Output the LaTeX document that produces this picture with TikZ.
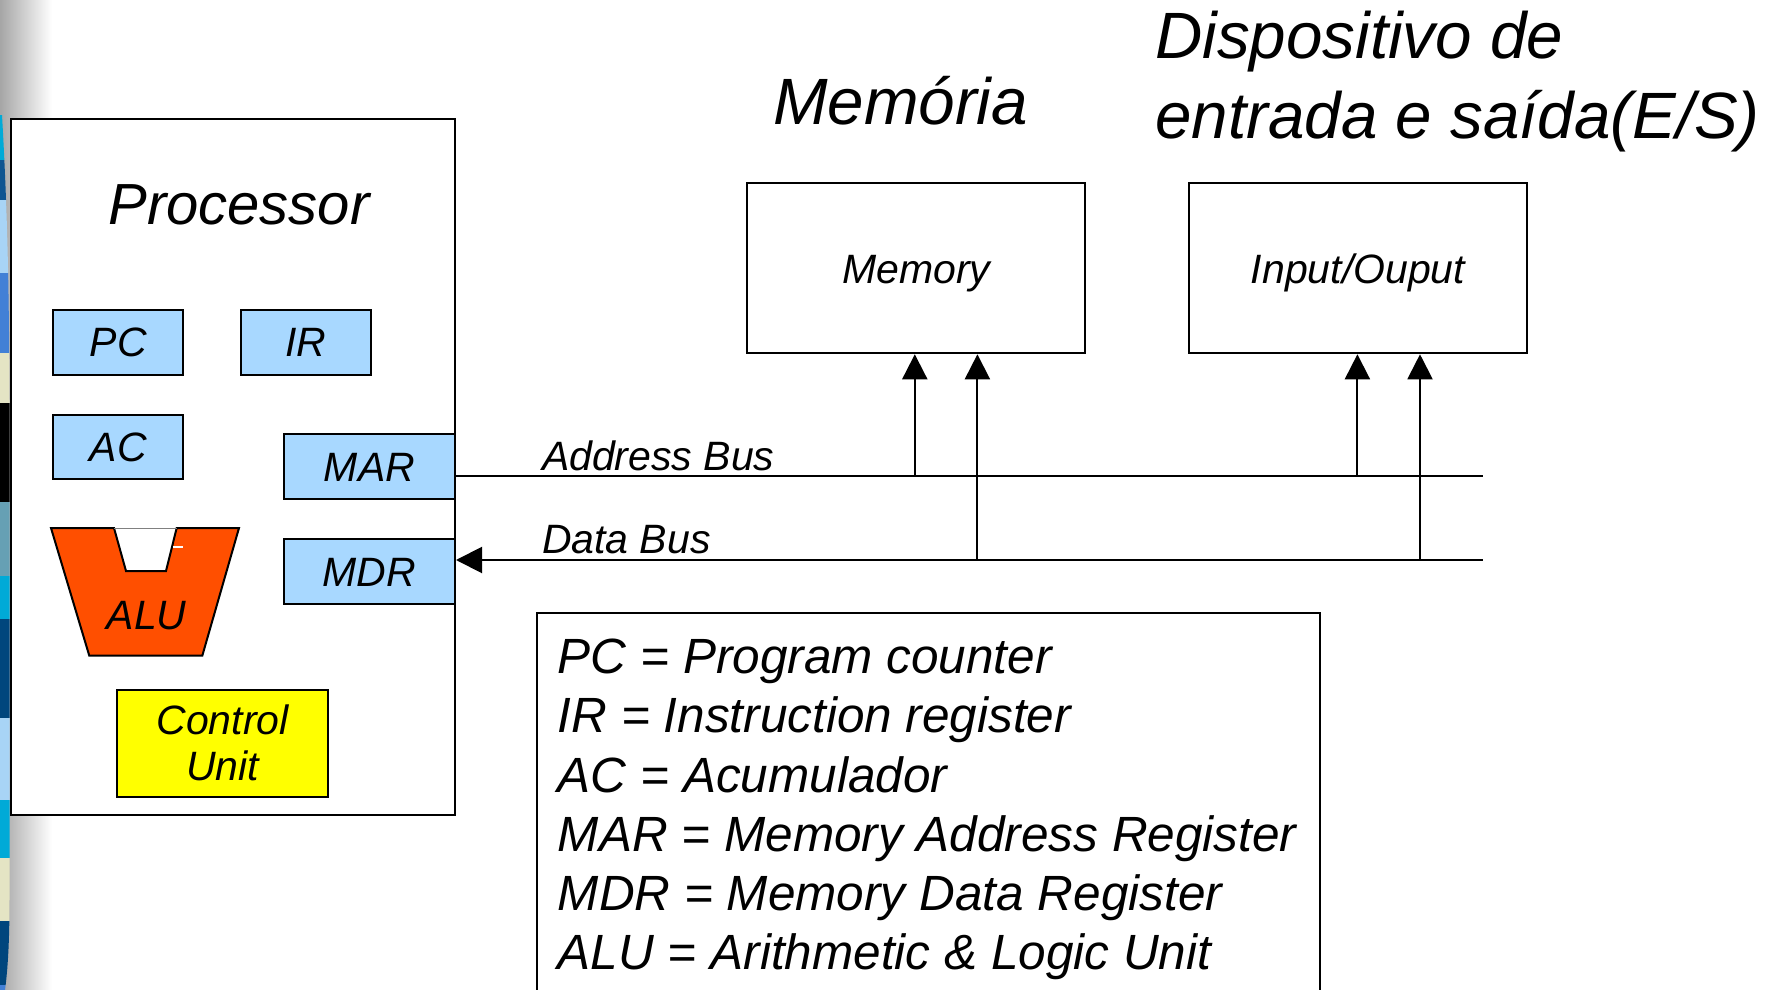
\documentclass[tikz,border=0pt]{standalone}
\usepackage{fontspec}
\setmainfont{Liberation Sans}
\usetikzlibrary{arrows.meta,calc}
\definecolor{regfill}{RGB}{168,216,255}
\definecolor{alufill}{RGB}{255,79,0}
\definecolor{cufill}{RGB}{255,255,0}
\definecolor{stripcyan}{RGB}{0,170,215}
\definecolor{stripdark}{RGB}{15,85,145}
\definecolor{striplight}{RGB}{168,212,246}
\definecolor{stripblue}{RGB}{66,128,214}
\definecolor{stripbeige}{RGB}{228,228,196}
\definecolor{stripteal}{RGB}{102,160,180}
\definecolor{stripnavy}{RGB}{0,70,125}
\tikzset{
  reg/.style={
    draw=black,
    line width=1pt,
    fill=regfill,
    minimum height=32.6pt,
    inner sep=0pt,
    text height=14.7pt,
    text depth=0pt,
    font=\fontsize{20.5}{23.3}\selectfont\itshape
  },
  unitbox/.style={
    draw=black,
    line width=1pt,
    fill=white,
    minimum width=169pt,
    minimum height=85pt,
    inner sep=0pt,
    text height=14.7pt,
    text depth=0pt,
    font=\fontsize{20.5}{23.3}\selectfont\itshape
  },
  ttl/.style={inner sep=0pt, anchor=base, font=\fontsize{32.75}{39.6}\selectfont\itshape},
  lbl/.style={inner sep=0pt, anchor=base west, font=\fontsize{20.5}{23.3}\selectfont\itshape},
  keyline/.style={inner sep=0pt, anchor=base west, font=\fontsize{24.75}{29.6}\selectfont\itshape},
  bus/.style={line width=1pt},
  busarrow/.style={line width=1pt, -{Triangle[length=12.5pt,width=12.5pt]}},
}

\begin{document}
\begin{tikzpicture}[x=0.5pt,y=-0.5pt]
  \useasboundingbox (0,0) rectangle (1784,990);
  \fill[white] (0,0) rectangle (1784,990);
  \shade[left color=black!35, right color=white] (0,0) rectangle (52,990);
  \begin{scope}
    \clip (0,115) -- (2,115) .. controls (8,220) and (9,300) .. (9.5,400) -- (9.5,900) .. controls (9.5,950) and (7,975) .. (5,990) -- (0,990) -- cycle;
    \foreach \ya/\yb/\c in {115/160/stripcyan,160/200/stripdark,200/273/striplight,273/353/stripblue,353/403/stripbeige,403/502/black,502/576/stripteal,576/619/stripcyan,619/718/stripnavy,718/800/striplight,800/858/stripcyan,858/921/stripbeige,921/985/stripnavy,985/990/stripblue} {
      \fill[\c] (0,\ya) rectangle (10,\yb);
    }
  \end{scope}

  \node[draw=black, line width=1pt, fill=white, minimum width=222pt, minimum height=348pt, inner sep=0pt] (cpu) at (233,467) {};
  \node[inner sep=0pt, anchor=base, font=\fontsize{29}{34}\selectfont\itshape] (cputitle) at (239,224) {Processor};

  \node[reg, minimum width=65pt] (pc) at (118.3,342.2) {PC};
  \node[reg, minimum width=65pt] (ir) at (305.8,342.2) {IR};
  \node[reg, minimum width=65pt, minimum height=31.8pt] (ac) at (118.3,446.8) {AC};
  \node[reg, minimum width=85.5pt] (mar) at (369.5,466.7) {MAR};
  \node[reg, minimum width=85.5pt] (mdr) at (369.5,571.8) {MDR};

  \filldraw[fill=alufill, draw=black, line width=1pt] (51,528) -- (114,528) -- (126,571) -- (166,571) -- (176.7,528) -- (239,528) -- (202.3,655.7) -- (89.3,655.7) -- cycle;
  \draw[gray, line width=0.5pt] (114,528) -- (176.7,528);
  \draw[white, line width=1pt] (173,547) -- (183,547);
  \node[lbl, anchor=base] (alu) at (146.7,629.3) {ALU};

  \node[reg, fill=cufill, minimum width=105.5pt, minimum height=53.5pt, text height=, text depth=, align=center] (cu) at (222.5,743) {Control\\Unit};

  \node[ttl] (memtitle) at (900.6,125) {Memória};
  \node[ttl, anchor=base west] (iotitle1) at (1155,59) {Dispositivo de};
  \node[ttl, anchor=base west] (iotitle2) at (1155,139) {entrada e saída(E/S)};

  \node[unitbox] (mem) at (916.2,268.3) {Memory};
  \node[unitbox] (io) at (1358,268.3) {Input/Ouput};

  \coordinate (abusend) at (1482.6,475.6);
  \coordinate (dbusend) at (1482.6,560);
  \draw[bus] (mar.east |- abusend) -- (abusend);
  \draw[bus, {Triangle[length=13pt,width=13pt]}-] (mdr.east |- dbusend) -- (dbusend);
  \node[lbl] (abuslbl) at (541.6,470) {Address Bus};
  \node[lbl] (dbuslbl) at (541.6,553) {Data Bus};

  \coordinate (ma) at (914.8,475.6);
  \coordinate (md) at (977.4,560);
  \coordinate (ia) at (1357.4,475.6);
  \coordinate (id) at (1420,560);
  \draw[busarrow] (ma) -- (ma |- mem.south);
  \draw[busarrow] (md) -- (md |- mem.south);
  \draw[busarrow] (ia) -- (ia |- io.south);
  \draw[busarrow] (id) -- (id |- io.south);

  \node[draw=black, line width=1pt, anchor=north west, minimum width=391.4pt, minimum height=220pt, inner sep=0pt] (key) at (536,612) {};
  \foreach \t [count=\i] in {PC = Program counter,IR = Instruction register,AC = Acumulador,MAR = Memory Address Register,MDR = Memory Data Register,ALU = Arithmetic \& Logic Unit} {
    \node[keyline] (key\i) at (557.5,{673.6+(\i-1)*59.2}) {\t};
  }
\end{tikzpicture}
\end{document}
